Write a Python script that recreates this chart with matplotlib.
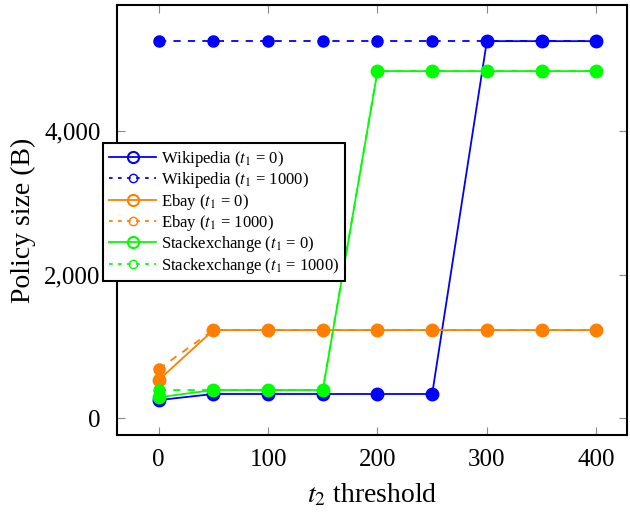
import matplotlib.pyplot as plt
from matplotlib.lines import Line2D
from matplotlib.ticker import FuncFormatter

plt.rcParams['font.family'] = 'Liberation Serif'
plt.rcParams['mathtext.fontset'] = 'stix'

thresholds = [0, 50, 100, 150, 200, 250, 300, 350, 400]

wiki_t0 = [250, 335, 335, 335, 335, 335, 5254, 5254, 5254]
wiki_t1000 = [5254, 5254, 5254, 5254, 5254, 5254, 5254, 5254, 5254]
ebay_t0 = [530, 1226, 1226, 1226, 1226, 1226, 1226, 1226, 1226]
ebay_t1000 = [683, 1226, 1226, 1226, 1226, 1226, 1226, 1226, 1226]
stack_t0 = [290, 390, 390, 390, 4836, 4836, 4836, 4836, 4836]
stack_t1000 = [390, 390, 390, 390, 4836, 4836, 4836, 4836, 4836]

names = ['Wikipedia', 'Ebay', 'Stackexchange']
colors = ['#0000ff', '#ff7f00', '#00ff00']
solid = [wiki_t0, ebay_t0, stack_t0]
dashed = [wiki_t1000, ebay_t1000, stack_t1000]

fig = plt.figure(figsize=(6.3, 5.13), dpi=100)
ax = fig.add_axes([0.186, 0.152, 0.809, 0.838])

handles = []
labels = []
for name, c, s, d in zip(names, colors, solid, dashed):
    ax.plot(thresholds, s, '-', color=c, lw=1.3, marker='o', ms=9)
    ax.plot(thresholds, d, '--', color=c, lw=1.3, marker='o', ms=8, dashes=(4, 4))
    handles.append(Line2D([], [], color=c, lw=1.3, marker='o', ms=8,
                          markerfacecolor='none', markeredgewidth=1.5))
    handles.append(Line2D([], [], color=c, lw=1.3, ls='--', dashes=(2, 3),
                          marker='o', ms=6, markerfacecolor='none'))
    labels.append(name + r' ($t_1$ = 0)')
    labels.append(name + r' ($t_1$ = 1000)')

ax.set_xlim(-38, 428)
ax.set_ylim(-237, 5756)
ax.set_xticks([0, 100, 200, 300, 400])
ax.set_yticks([0, 2000, 4000])
ax.yaxis.set_major_formatter(FuncFormatter(lambda v, p: f'{int(v):,}'))
ax.tick_params(direction='in', top=True, right=True, labelsize=18, length=6,
               color='#888888')
ax.tick_params(axis='y', pad=12)
ax.tick_params(axis='x', pad=10)
for sp in ax.spines.values():
    sp.set_linewidth(1.5)
ax.set_xlabel(r'$t_2$ threshold', fontsize=20, labelpad=8)
ax.set_ylabel('Policy size (B)', fontsize=20, labelpad=6)

leg = ax.legend(handles, labels, loc='upper left', bbox_to_anchor=(-0.027, 0.679),
                borderaxespad=0, fontsize=12, frameon=True, fancybox=False,
                edgecolor='black', handlelength=2.8, labelspacing=0.08,
                borderpad=0.35, handletextpad=0.3, framealpha=1)
leg.get_frame().set_linewidth(1.5)

fig.savefig('out.png', dpi=100)
